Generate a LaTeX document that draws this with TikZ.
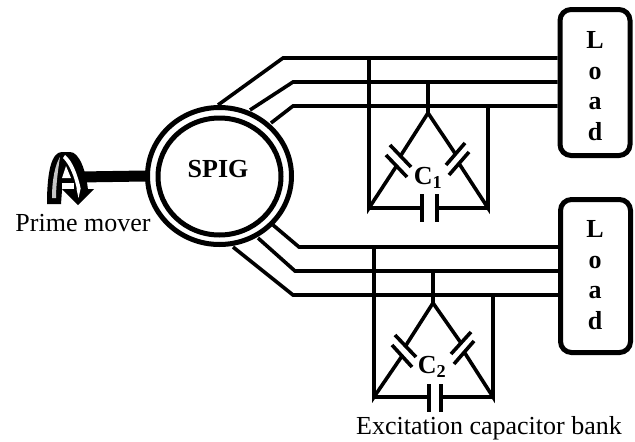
\documentclass[tikz,border=0pt]{standalone}
\usepackage{fontspec}
\usetikzlibrary{shapes.geometric}
\setmainfont{Liberation Serif}
\tikzset{
  wire/.style={line width=3.6pt, line join=miter},
  plate/.style={line width=3.6pt},
  ring/.style={draw, ellipse, line width=5pt, inner sep=0pt},
  loadbox/.style={draw, rectangle, rounded corners=11pt, line width=5pt, minimum width=70pt},
  loadtext/.style={inner sep=0pt, align=center, font=\fontsize{26}{30.6}\selectfont\bfseries},
  plainlabel/.style={inner sep=0pt, font=\fontsize{26}{30}\selectfont},
  boldlabel/.style={inner sep=0pt, font=\fontsize{26}{30}\selectfont\bfseries}
}
\begin{document}
\begin{tikzpicture}[x=1pt,y=-1pt]
  \useasboundingbox (0,0) rectangle (635,442);

  % Upper feeder
  \coordinate (aa) at (218,105);
  \coordinate (ab) at (283,58);
  \coordinate (ba) at (250,110);
  \coordinate (bb) at (293,82);
  \coordinate (ca) at (271,123);
  \coordinate (cb) at (293,106);

  % Lower feeder
  \coordinate (da) at (273,225);
  \coordinate (db) at (299,247);
  \coordinate (ea) at (258,238);
  \coordinate (eb) at (295,271);
  \coordinate (fa) at (233,247);
  \coordinate (fb) at (293,295);

  % Machine
  \node[ring, minimum width=144pt, minimum height=137pt] (spig) at (219.5,176) {};
  \node[ring, minimum width=123pt, minimum height=117pt] (spiginner) at (219.5,176.5) {};
  \node[boldlabel] (spiglabel) at (218,169) {SPIG};

  % Prime mover
  \coordinate (shaft) at (80,177);
  \draw[line width=11pt] (shaft) -- (spig.west);
  \fill (47,204) .. controls (47,170) and (52,152) .. (62,152) -- (70,152)
    .. controls (79,152) and (86,170) .. (88,190) -- (62,190) -- (61,204) -- cycle;
  \fill[gray!45] (52,198) .. controls (52,180) and (55,165) .. (60,157)
    .. controls (58,170) and (56,185) .. (56,198) -- cycle;
  \fill[white] (65,155) .. controls (72,160) and (78,175) .. (81,190) -- (77,190)
    .. controls (75,178) and (70,165) .. (63,158) -- cycle;
  \fill[white] (66,166) -- (62,178) -- (71,178) -- cycle;
  \fill[white] (62,183) rectangle (74,190);
  \fill (62,189) -- (94,189) -- (78,205) -- cycle;
  \fill[white] (76.5,189) -- (80.5,189) -- (78.5,198) -- cycle;
  \node[plainlabel] (primemover) at (83,223) {Prime mover};

  % Loads
  \node[loadbox, minimum height=146pt] (loadA) at (595,82.5) {};
  \node[loadbox, minimum height=153pt] (loadB) at (595.5,276) {};
  \node[loadtext] (textA) at (595,86) {L\\o\\a\\d};
  \node[loadtext] (textB) at (595,275) {L\\o\\a\\d};

  \draw[wire] (aa) -- (ab) -- (ab -| loadA.west);
  \draw[wire] (ba) -- (bb) -- (bb -| loadA.west);
  \draw[wire] (ca) -- (cb) -- (cb -| loadA.west);
  \draw[wire] (da) -- (db) -- (db -| loadB.west);
  \draw[wire] (ea) -- (eb) -- (eb -| loadB.west);
  \draw[wire] (fa) -- (fb) -- (fb -| loadB.west);

  % First capacitor bank
  \coordinate (tapAl) at (369,58);
  \coordinate (tapAm) at (428,82);
  \coordinate (tapAr) at (488,106);
  \coordinate (topA) at (428,113);
  \coordinate (leftA) at (369,208);
  \coordinate (rightA) at (488,208);
  \coordinate (capAla) at (400.5,156);
  \coordinate (capAlb) at (396.5,166);
  \coordinate (capAra) at (455.5,154);
  \coordinate (capArb) at (459,163.5);
  \coordinate (capAba) at (422,208);
  \coordinate (capAbb) at (437,208);
  \draw[wire] (tapAl) -- (leftA) -- (capAlb);
  \draw[wire] (capAla) -- (topA) -- (capAra);
  \draw[wire] (capArb) -- (rightA) -- (tapAr);
  \draw[wire] (tapAm) -- (topA);
  \draw[wire] (leftA) -- (capAba);
  \draw[wire] (capAbb) -- (rightA);
  \draw[plate] (390,145) -- (411,167);
  \draw[plate] (386,155) -- (407,177);
  \draw[plate] (465,143) -- (446,165);
  \draw[plate] (469,152) -- (449,175);
  \draw[plate] (422,194) -- (422,222);
  \draw[plate] (437,194) -- (437,222);
  \node[boldlabel] (labelA) at (428,178) {C\textsubscript{1}};

  % Second capacitor bank
  \coordinate (tapBl) at (374,247);
  \coordinate (tapBm) at (433,271);
  \coordinate (tapBr) at (493,295);
  \coordinate (topB) at (433,303);
  \coordinate (leftB) at (374,397);
  \coordinate (rightB) at (493,397);
  \coordinate (capBla) at (405.5,346);
  \coordinate (capBlb) at (402,356);
  \coordinate (capBra) at (461,343);
  \coordinate (capBrb) at (464.5,352.5);
  \coordinate (capBba) at (429,397);
  \coordinate (capBbb) at (441,397);
  \draw[wire] (tapBl) -- (leftB) -- (capBlb);
  \draw[wire] (capBla) -- (topB) -- (capBra);
  \draw[wire] (capBrb) -- (rightB) -- (tapBr);
  \draw[wire] (tapBm) -- (topB);
  \draw[wire] (leftB) -- (capBba);
  \draw[wire] (capBbb) -- (rightB);
  \draw[plate] (395,335) -- (416,357);
  \draw[plate] (392,345) -- (412,367);
  \draw[plate] (471,332) -- (451,354);
  \draw[plate] (474,341) -- (454,364);
  \draw[plate] (429,384) -- (429,412);
  \draw[plate] (441,384) -- (441,412);
  \node[boldlabel] (labelB) at (432,367) {C\textsubscript{2}};

  \node[plainlabel] (bankname) at (489,428) {Excitation capacitor bank};
\end{tikzpicture}
\end{document}
